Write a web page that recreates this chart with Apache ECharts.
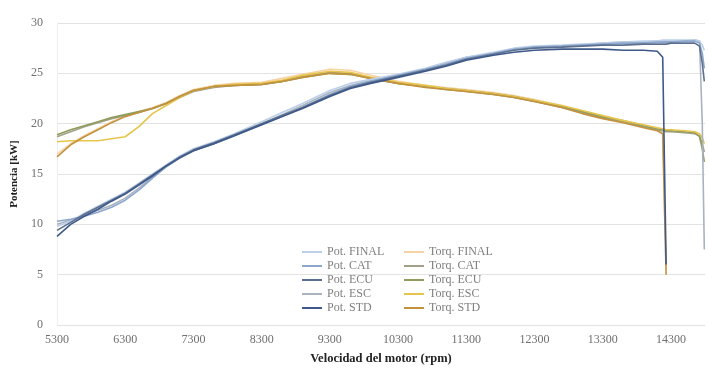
<!DOCTYPE html>
<html>
<head>
<meta charset="utf-8">
<script src="https://cdn.jsdelivr.net/npm/echarts@6/dist/echarts.min.js"></script>
<style>html,body{margin:0;padding:0;background:#fff}#c{width:708px;height:377px}</style>
</head>
<body>
<div id="c"></div>
<script>
const rpm = [5300,5500,5700,5900,6100,6300,6500,6700,6900,7100,7300,7600,7900,8300,8600,8900,9300,9600,9900,10300,10700,11000,11300,11700,12000,12300,12700,13000,13300,13600,13900,14100,14180,14230,14300,14500,14650,14720,14760,14790];

const xTicks = [5300,6300,7300,8300,9300,10300,11300,12300,13300,14300];
const yTicks = [0,5,10,15,20,25,30];

const potFINAL = [9.8,10.3,11.1,11.8,12.5,13.2,14.1,15.0,15.9,16.8,17.5,18.2,19.0,20.2,21.1,22.0,23.3,24.0,24.4,24.9,25.5,26.1,26.6,27.1,27.5,27.7,27.8,27.9,28.0,28.1,28.2,28.2,28.3,28.3,28.3,28.3,28.3,28.2,27.8,27.3];
const potCAT   = [10.3,10.5,10.8,11.2,11.7,12.4,13.4,14.6,15.7,16.6,17.3,18.0,18.8,19.9,20.7,21.6,22.9,23.7,24.2,24.8,25.4,25.9,26.5,27.0,27.4,27.6,27.7,27.8,27.9,28.0,28.0,28.1,28.1,28.1,28.1,28.2,28.2,28.0,27.0,25.5];
const potECU   = [9.4,10.2,11.0,11.7,12.4,13.1,14.0,14.9,15.8,16.7,17.4,18.1,18.9,20.0,20.8,21.6,22.8,23.6,24.1,24.7,25.3,25.8,26.4,26.9,27.3,27.5,27.6,27.7,27.8,27.8,27.9,27.9,27.9,27.9,28.0,28.0,28.0,27.7,26.0,24.2];
const potESC   = [10.0,10.4,10.9,11.4,11.9,12.6,13.6,14.7,15.7,16.6,17.3,18.0,18.9,20.0,20.9,21.8,23.1,23.8,24.3,24.8,25.4,26.0,26.6,27.0,27.4,27.6,27.7,27.8,28.0,28.1,28.1,28.2,28.2,28.2,28.2,28.2,28.3,28.2,20.0,7.5];
const potSTD   = [8.8,10.0,10.8,11.5,12.3,13.0,13.9,14.8,15.8,16.6,17.3,18.0,18.8,19.9,20.7,21.5,22.7,23.5,24.0,24.6,25.2,25.7,26.3,26.8,27.1,27.3,27.4,27.4,27.4,27.3,27.3,27.2,26.6,6.0,null,null,null,null,null,null];

const torqFINAL = [17.0,18.0,18.8,19.5,20.2,20.8,21.2,21.6,22.1,22.8,23.4,23.8,24.0,24.1,24.5,24.9,25.4,25.3,24.8,24.2,23.8,23.6,23.4,23.1,22.8,22.4,21.8,21.2,20.7,20.2,19.7,19.4,19.1,5.5,null,null,null,null,null,null];
const torqCAT   = [18.7,19.2,19.7,20.1,20.5,20.8,21.1,21.5,22.0,22.6,23.2,23.6,23.8,23.9,24.2,24.7,25.1,25.0,24.5,24.0,23.7,23.4,23.2,22.9,22.6,22.2,21.6,21.1,20.6,20.2,19.7,19.4,19.3,19.2,19.2,19.1,19.0,18.8,18.0,17.2];
const torqECU   = [18.9,19.4,19.8,20.2,20.6,20.9,21.2,21.5,22.0,22.7,23.3,23.7,23.8,23.9,24.2,24.6,25.0,24.9,24.5,24.0,23.7,23.5,23.3,23.0,22.7,22.3,21.7,21.2,20.7,20.3,19.8,19.5,19.4,19.3,19.3,19.2,19.1,18.7,17.5,16.2];
const torqESC   = [18.2,18.3,18.3,18.3,18.5,18.7,19.7,21.0,21.8,22.6,23.3,23.7,23.9,24.0,24.3,24.8,25.2,25.1,24.6,24.1,23.8,23.5,23.3,23.0,22.7,22.3,21.8,21.3,20.8,20.3,19.9,19.6,19.5,19.4,19.4,19.3,19.2,19.0,18.6,18.0];
const torqSTD   = [16.7,17.9,18.7,19.4,20.1,20.7,21.1,21.5,22.0,22.7,23.3,23.7,23.8,23.9,24.2,24.6,25.0,24.9,24.5,24.0,23.6,23.4,23.2,22.9,22.6,22.2,21.6,21.0,20.5,20.1,19.6,19.3,19.0,5.0,null,null,null,null,null,null];

const names = ['Pot. FINAL','Pot. CAT','Pot. ECU','Pot. ESC','Pot. STD','Torq. FINAL','Torq. CAT','Torq. ECU','Torq. ESC','Torq. STD'];
const values = [potFINAL,potCAT,potECU,potESC,potSTD,torqFINAL,torqCAT,torqECU,torqESC,torqSTD];
const colors = ['#bccfe8','#8da6cc','#5b6f8e','#a9b3c0','#3e5989','#f5d3a4','#a3a08a','#8f9c5e','#e6c54c','#c3923f'];

const series = names.map((n,i)=>({
  name: n,
  type: 'line',
  data: rpm.map((r,j)=>[r, values[i][j]]),
  showSymbol: false,
  symbol: 'none',
  connectNulls: false,
  lineStyle: {width: 1.6, color: colors[i]},
  itemStyle: {color: colors[i]},
  emphasis: {disabled: true},
  z: i < 5 ? 3 : 2
}));
const drawOrder = [3,0,1,2,4,5,6,7,8,9];

const legendText = {fontFamily: 'Liberation Serif', fontSize: 12, color: '#7f7f7f'};
const chart = echarts.init(document.getElementById('c'), null, {renderer: 'canvas'});
chart.setOption({
  animation: false,
  backgroundColor: '#fff',
  grid: {left: 57, right: 3, top: 23, bottom: 52, containLabel: false},
  legend: [
    {data: names.slice(0,5), orient: 'vertical', left: 297, top: 241, itemWidth: 20, itemHeight: 2, itemGap: 2, icon: 'rect', textStyle: legendText, selectedMode: false},
    {data: names.slice(5), orient: 'vertical', left: 399, top: 241, itemWidth: 20, itemHeight: 2, itemGap: 2, icon: 'rect', textStyle: legendText, selectedMode: false}
  ],
  xAxis: {
    type: 'value', min: xTicks[0], max: 14800, interval: 1000,
    name: 'Velocidad del motor (rpm)', nameLocation: 'middle', nameGap: 27,
    nameTextStyle: {fontFamily: 'Liberation Serif', fontWeight: 'bold', fontSize: 12.5, color: '#222'},
    axisLine: {show: false}, axisTick: {show: false},
    axisLabel: {fontFamily: 'Liberation Serif', fontSize: 12, color: '#6f6f6f', margin: 9, showMaxLabel: false,
      formatter: v => xTicks.indexOf(v) >= 0 ? String(v) : ''},
    splitLine: {show: false}
  },
  yAxis: {
    type: 'value', min: yTicks[0], max: yTicks[yTicks.length-1], interval: 5,
    name: 'Potencia [kW]', nameLocation: 'middle', nameGap: 36, nameRotate: 90,
    nameTextStyle: {fontFamily: 'Liberation Serif', fontWeight: 'bold', fontSize: 11, color: '#222'},
    axisLine: {show: true, lineStyle: {color: '#eeeeee'}}, axisTick: {show: false},
    axisLabel: {fontFamily: 'Liberation Serif', fontSize: 12, color: '#6f6f6f', margin: 14},
    splitLine: {lineStyle: {color: '#e3e3e3', width: 1}}
  },
  series: drawOrder.map(i => series[i])
});
</script>
</body>
</html>
